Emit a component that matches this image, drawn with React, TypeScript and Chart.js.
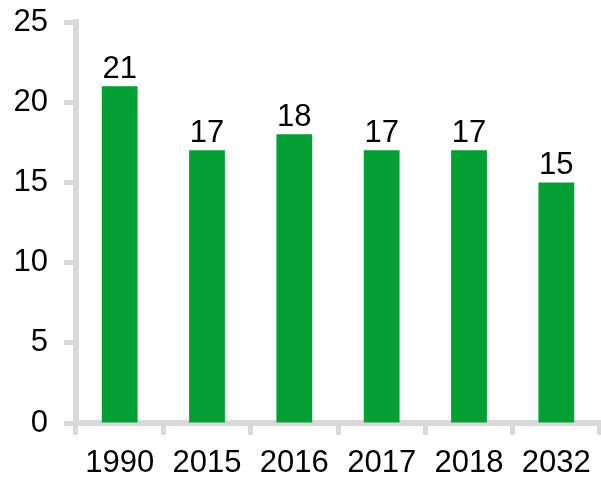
import React, { useEffect, useRef } from "react";
import { Chart, registerables } from "chart.js";

Chart.register(...registerables);

const categories = ["1990", "2015", "2016", "2017", "2018", "2032"];
const values = [21, 17, 18, 17, 17, 15];
const yTicks = [0, 5, 10, 15, 20, 25];

const GREEN = "#05A035";
const GREY = "#D9D9D9";
const FONT = "'Liberation Sans', Arial, sans-serif";

const labelPlugin = {
  id: "barLabels",
  afterDatasetsDraw(chart: any) {
    const ctx = chart.ctx;
    const meta = chart.getDatasetMeta(0);
    ctx.save();
    ctx.font = `31px ${FONT}`;
    ctx.fillStyle = "#000";
    ctx.textAlign = "center";
    ctx.textBaseline = "alphabetic";
    meta.data.forEach((bar: any, i: number) => {
      ctx.fillText(String(values[i]), bar.x, bar.y - 8);
    });
    ctx.restore();
  },
};

export default function App() {
  const ref = useRef<HTMLCanvasElement>(null);
  useEffect(() => {
    document.body.style.margin = "0";
    const chart = new Chart(ref.current!, {
      type: "bar",
      data: {
        labels: categories,
        datasets: [
          {
            data: values,
            backgroundColor: GREEN,
            barPercentage: 0.41,
            categoryPercentage: 1,
          },
        ],
      },
      plugins: [labelPlugin],
      options: {
        animation: false,
        responsive: false,
        maintainAspectRatio: false,
        layout: { padding: { left: 0, top: 22, right: 1, bottom: 0 } },
        plugins: { legend: { display: false }, tooltip: { enabled: false } },
        scales: {
          x: {
            afterFit: (s: any) => {
              s.height = 60;
              s.paddingLeft = 0;
              s.paddingRight = 0;
            },
            grid: {
              offset: true,
              drawOnChartArea: false,
              drawTicks: true,
              tickLength: 12,
              tickWidth: 5,
              tickColor: GREY,
            },
            border: { display: true, color: GREY, width: 6 },
            ticks: { font: { family: FONT, size: 31 }, color: "#000", padding: 10 },
          },
          y: {
            min: 0,
            max: 25,
            afterFit: (s: any) => {
              s.width = 76;
              s.paddingTop = 0;
              s.paddingBottom = 0;
            },
            afterBuildTicks: (s: any) => {
              s.ticks = yTicks.map((v) => ({ value: v }));
            },
            grid: {
              drawOnChartArea: false,
              drawTicks: true,
              tickLength: 12,
              tickWidth: 5,
              tickColor: GREY,
            },
            border: { display: true, color: GREY, width: 6 },
            ticks: { font: { family: FONT, size: 31 }, color: "#000", padding: 16 },
          },
        },
      },
    });
    return () => chart.destroy();
  }, []);
  return (
    <div style={{ width: 601, height: 483 }}>
      <canvas ref={ref} width={601} height={483} style={{ display: "block" }} />
    </div>
  );
}
